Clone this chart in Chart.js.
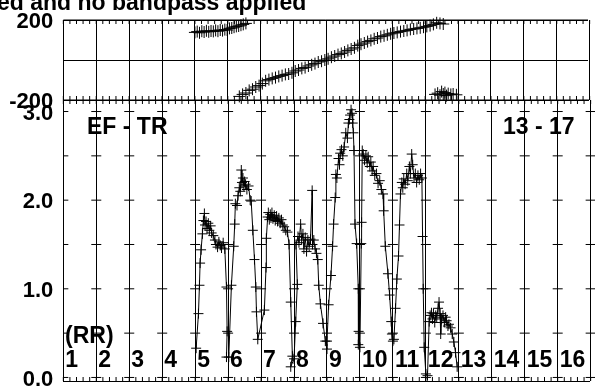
<!DOCTYPE html>
<html>
<head>
<meta charset="utf-8">
<script src="https://cdn.jsdelivr.net/npm/chart.js@4.4.0/dist/chart.umd.min.js"></script>
<style>
  body { margin: 0; background: #fff; }
  #wrap { position: relative; width: 595px; height: 387px; overflow: hidden; }
  canvas { position: absolute; left: 0; top: 0; }
</style>
</head>
<body>
<div id="wrap">
  <canvas id="fase" width="595" height="387"></canvas>
  <canvas id="amplitud" width="595" height="387"></canvas>
</div>
<script>
const titulo = "ed and no bandpass applied";
const baseLabel = "EF - TR";
const horasLabel = "13 - 17";
const rrLabels = ["1", "2", "3", "4", "5", "6", "7", "8", "9", "10", "11", "12", "13", "14", "15", "16"];

const xGrid = [0, 1, 2, 3, 4, 5, 6, 7, 8, 9, 10, 11, 12, 13, 14, 15, 16];
const phaseTicks = [-200, 0, 200];
const ampTicks = [0, 0.5, 1, 1.5, 2, 2.5, 3];

// phase (deg)
const phaseTime = [
  4.00, 4.07, 4.14, 4.21, 4.28, 4.35, 4.42, 4.49, 4.56, 4.63, 4.70, 4.77, 4.84, 4.91, 4.98, 5.05, 5.12, 5.19, 5.26, 5.33, 5.40, 5.47, 5.55,
  5.35, 5.45, 5.55, 5.65, 5.75, 5.85, 5.95, 6.05, 6.15, 6.25,
  6.35, 6.45, 6.55, 6.65, 6.75, 6.85, 6.95, 7.05, 7.15, 7.25,
  7.35, 7.45, 7.55, 7.65, 7.75, 7.85, 7.95, 8.05, 8.15, 8.25,
  8.35, 8.45, 8.55, 8.65, 8.75, 8.85, 8.95, 9.05, 9.15, 9.25,
  9.35, 9.45, 9.55, 9.65, 9.75, 9.85, 9.95, 10.05, 10.15, 10.25,
  10.35, 10.45, 10.55, 10.65, 10.75, 10.85, 10.95, 11.05, 11.15, 11.25,
  11.35, 11.45, 11.55,
  11.30, 11.38, 11.45, 11.50, 11.55, 11.60, 11.65, 11.70, 11.78, 11.85, 11.95,
];
const phaseValue = [
  138, 142, 136, 144, 140, 146, 141, 145, 143, 148, 144, 150, 147, 152, 150, 158, 160, 164, 168, 170, 174, 178, 183,
  -182, -172, -165, -152, -146, -135, -128, -118, -104, -98,
  -92, -88, -82, -78, -72, -70, -64, -55, -50, -42,
  -38, -30, -24, -18, -10, -6, 0, 6, 14, 20,
  27, 33, 40, 48, 55, 61, 72, 79, 85, 92,
  98, 106, 110, 117, 121, 126, 131, 135, 138, 142,
  145, 148, 153, 155, 158, 161, 164, 168, 172, 178,
  186, 183, 180,
  -172, -166, -176, -158, -170, -163, -178, -168, -172, -170, -174,
];

// amplitude, one row per scan
const ampTime = [
  4.03, 4.10, 4.13, 4.15, 4.18, 4.22, 4.25, 4.28, 4.30, 4.33, 4.36, 4.40, 4.43, 4.47, 4.50, 4.55, 4.60, 4.63, 4.68, 4.72, 4.76, 4.80, 4.85, 4.90, 4.95, 4.97, 4.95,
  5.02, 5.10, 5.17, 5.20, 5.22, 5.27, 5.30, 5.34, 5.37, 5.40, 5.42, 5.45, 5.48, 5.50, 5.53, 5.57, 5.62, 5.67, 5.70, 5.75, 5.80, 5.84, 5.86, 5.90,
  6.10, 6.15, 6.16, 6.20, 6.22, 6.25, 6.28, 6.30, 6.33, 6.36, 6.40, 6.43, 6.47, 6.50, 6.54, 6.58, 6.62, 6.66, 6.70, 6.75, 6.80, 6.85, 6.90, 6.95, 6.90,
  7.00, 7.05, 7.10, 7.06, 7.12, 7.15, 7.20, 7.23, 7.27, 7.30, 7.34, 7.38, 7.42, 7.46, 7.50, 7.55, 7.56, 7.60, 7.64, 7.68, 7.72, 7.75, 7.80, 7.88, 7.95, 8.00,
  8.00, 8.05, 8.12, 8.17, 8.20, 8.25, 8.27, 8.30, 8.35, 8.38, 8.40, 8.44, 8.48, 8.52, 8.57, 8.62, 8.65, 8.68, 8.70, 8.73, 8.76, 8.78, 8.80, 8.82, 8.85, 8.90, 8.95, 8.96, 8.95,
  9.00, 9.04, 9.05, 9.07, 9.10, 9.14, 9.18, 9.22, 9.25, 9.30, 9.33, 9.37, 9.40, 9.45, 9.50, 9.55, 9.60, 9.65, 9.70, 9.72, 9.77, 9.85, 9.90, 9.95, 9.97, 10.00,
  10.03, 10.08, 10.12, 10.17, 10.20, 10.23, 10.27, 10.30, 10.33, 10.37, 10.42, 10.45, 10.50, 10.53, 10.57, 10.60, 10.64, 10.68, 10.72, 10.76, 10.80, 10.84, 10.88, 10.90, 10.92, 10.95, 11.00,
  11.05, 11.10, 11.13, 11.17, 11.20, 11.23, 11.27, 11.30, 11.33, 11.37, 11.40, 11.43, 11.45, 11.48, 11.52, 11.56, 11.60, 11.63, 11.67, 11.70, 11.75, 11.80, 11.85, 11.90, 11.95,
];
const ampValue = [
  0.33, 0.72, 1.04, 1.29, 1.44, 1.62, 1.77, 1.85, 1.72, 1.76, 1.68, 1.74, 1.66, 1.71, 1.63, 1.60, 1.55, 1.50, 1.47, 1.53, 1.49, 1.46, 1.52, 1.45, 1.02, 0.52, 0.23,
  0.23, 1.04, 1.48, 1.73, 1.96, 1.94, 2.05, 2.14, 2.10, 2.34, 2.20, 2.25, 2.16, 2.21, 2.18, 2.12, 2.16, 2.00, 1.99, 1.66, 1.33, 1.02, 0.74, 0.43,
  0.76, 1.24, 1.57, 1.81, 1.86, 1.78, 1.84, 1.80, 1.86, 1.79, 1.83, 1.77, 1.82, 1.76, 1.80, 1.74, 1.78, 1.72, 1.70, 1.66, 1.64, 1.50, 0.85, 0.24, 0.12,
  0.21, 0.63, 1.05, 1.50, 1.59, 1.52, 1.73, 1.55, 1.62, 1.45, 1.58, 1.42, 1.55, 1.48, 1.56, 2.11, 1.50, 1.55, 1.45, 1.40, 1.33, 1.04, 0.83, 0.61, 0.41, 0.32,
  0.41, 0.82, 1.15, 1.48, 1.73, 2.03, 2.29, 2.25, 2.47, 2.40, 2.53, 2.57, 2.50, 2.60, 2.76, 2.70, 2.87, 2.91, 2.96, 3.02, 2.98, 2.87, 2.76, 2.56, 1.73, 1.51, 1.00, 0.52, 0.37,
  0.34, 1.51, 1.75, 2.56, 2.52, 2.45, 2.50, 2.42, 2.49, 2.38, 2.43, 2.33, 2.38, 2.28, 2.30, 2.19, 2.22, 2.12, 2.07, 1.88, 1.48, 1.17, 0.93, 0.63, 0.49, 0.41,
  0.43, 0.78, 1.11, 1.37, 1.72, 2.07, 2.20, 2.14, 2.24, 2.18, 2.30, 2.22, 2.38, 2.30, 2.52, 2.40, 2.25, 2.30, 2.20, 2.28, 2.23, 2.30, 2.25, 1.59, 1.00, 0.34, 0.04,
  0.02, 0.63, 0.70, 0.73, 0.66, 0.72, 0.62, 0.70, 0.68, 0.78, 0.85, 0.72, 0.49, 0.66, 0.70, 0.62, 0.68, 0.64, 0.58, 0.60, 0.56, 0.49, 0.40, 0.28, 0.12,
];

const fuenteTexto = "bold 23px 'Liberation Sans', Arial, sans-serif";
const fuenteTicks = { family: "'Liberation Sans', Arial, sans-serif", size: 22, weight: "bold" };

const fijarEje = (ancho) => (scale) => {
  if (ancho !== null) scale.width = ancho;
  else scale.height = 0;
  scale.paddingTop = 0;
  scale.paddingBottom = 0;
  scale.paddingLeft = 0;
  scale.paddingRight = 0;
};

const marco = {
  id: "marco",
  beforeDatasetsDraw: (chart, args, opts) => {
    const { ctx, chartArea, scales } = chart;
    const x = scales.x;
    const y = scales.y;
    ctx.save();
    ctx.strokeStyle = "#000";
    ctx.lineWidth = 1;
    ctx.beginPath();
    for (let k = 0; k <= 80; k++) {
      const px = x.getPixelForValue(k / 5);
      ctx.moveTo(px, chartArea.top);
      ctx.lineTo(px, chartArea.top + 4);
      ctx.moveTo(px, chartArea.bottom);
      ctx.lineTo(px, chartArea.bottom - 4);
    }
    ctx.moveTo(chartArea.left, chartArea.top);
    ctx.lineTo(chartArea.right, chartArea.top);
    if (opts.cruces) {
      xGrid.forEach((u) => {
        const px = x.getPixelForValue(u);
        ampTicks.forEach((v) => {
          const py = y.getPixelForValue(v);
          ctx.moveTo(u === 0 ? px : px - 5, py);
          ctx.lineTo(px + 5, py);
        });
      });
    }
    ctx.stroke();
    ctx.restore();
  },
};

const textos = {
  id: "textos",
  afterDraw: (chart, args, opts) => {
    const { ctx, scales } = chart;
    ctx.save();
    ctx.fillStyle = "#000";
    ctx.font = fuenteTexto;
    ctx.textBaseline = "alphabetic";
    if (opts.titulo) {
      ctx.fillText(titulo, -3, 10);
    }
    if (opts.rr) {
      ctx.fillText(baseLabel, 87, 134);
      ctx.fillText(horasLabel, 503, 134);
      ctx.fillText("(RR)", 65, 343);
      rrLabels.forEach((lab, i) => {
        ctx.fillText(lab, scales.x.getPixelForValue(i) + 2, 367);
      });
    }
    ctx.restore();
  },
};

const ejeX = {
  type: "linear",
  min: 0,
  max: 15.95,
  afterBuildTicks: (scale) => {
    scale.ticks = xGrid.map((v) => ({ value: v }));
  },
  afterFit: fijarEje(null),
  ticks: { display: false },
  grid: { color: "#000", lineWidth: 1, drawTicks: false },
  border: { color: "#000", width: 1 },
};

const chartFase = new Chart(document.getElementById("fase").getContext("2d"), {
  type: "scatter",
  data: {
    datasets: [
      {
        data: phaseTime.map((t, i) => ({ x: t, y: phaseValue[i] })),
        pointStyle: "cross",
        pointRadius: 6,
        borderColor: "#000",
        borderWidth: 1,
        showLine: false,
        clip: false,
      },
    ],
  },
  options: {
    animation: false,
    responsive: false,
    devicePixelRatio: 1,
    layout: { padding: { top: 20, bottom: 287, left: 0, right: 0 } },
    scales: {
      x: ejeX,
      y: {
        min: -200,
        max: 200,
        afterBuildTicks: (scale) => {
          scale.ticks = phaseTicks.map((v) => ({ value: v }));
        },
        afterFit: fijarEje(63.33),
        ticks: {
          padding: 10,
          labelOffset: 2,
          color: "#000",
          font: fuenteTicks,
          callback: (v) => (v === 0 ? "" : String(v)),
        },
        grid: { color: "#000", lineWidth: 1, drawTicks: false },
        border: { color: "#000", width: 1 },
      },
    },
    plugins: {
      legend: { display: false },
      tooltip: { enabled: false },
      marco: { cruces: false },
      textos: { titulo: true, rr: false },
    },
  },
  plugins: [marco, textos],
});

const chartAmp = new Chart(document.getElementById("amplitud").getContext("2d"), {
  type: "scatter",
  data: {
    datasets: [
      {
        data: ampTime.map((t, i) => ({ x: t, y: ampValue[i] })),
        pointStyle: "cross",
        pointRadius: 5,
        borderColor: "#000",
        borderWidth: 1,
        showLine: true,
        tension: 0,
        clip: false,
      },
    ],
  },
  options: {
    animation: false,
    responsive: false,
    devicePixelRatio: 1,
    layout: { padding: { top: 100, bottom: 0, left: 0, right: 0 } },
    scales: {
      x: ejeX,
      y: {
        min: -0.04,
        max: 3.13,
        afterBuildTicks: (scale) => {
          scale.ticks = ampTicks.map((v) => ({ value: v }));
        },
        afterFit: fijarEje(63.33),
        ticks: {
          padding: 10,
          labelOffset: 2,
          color: "#000",
          font: fuenteTicks,
          callback: (v) => (v % 1 === 0 ? v.toFixed(1) : ""),
        },
        grid: { drawOnChartArea: false, drawTicks: false },
        border: { color: "#000", width: 1 },
      },
    },
    plugins: {
      legend: { display: false },
      tooltip: { enabled: false },
      marco: { cruces: true },
      textos: { titulo: false, rr: true },
    },
  },
  plugins: [marco, textos],
});
</script>
</body>
</html>
